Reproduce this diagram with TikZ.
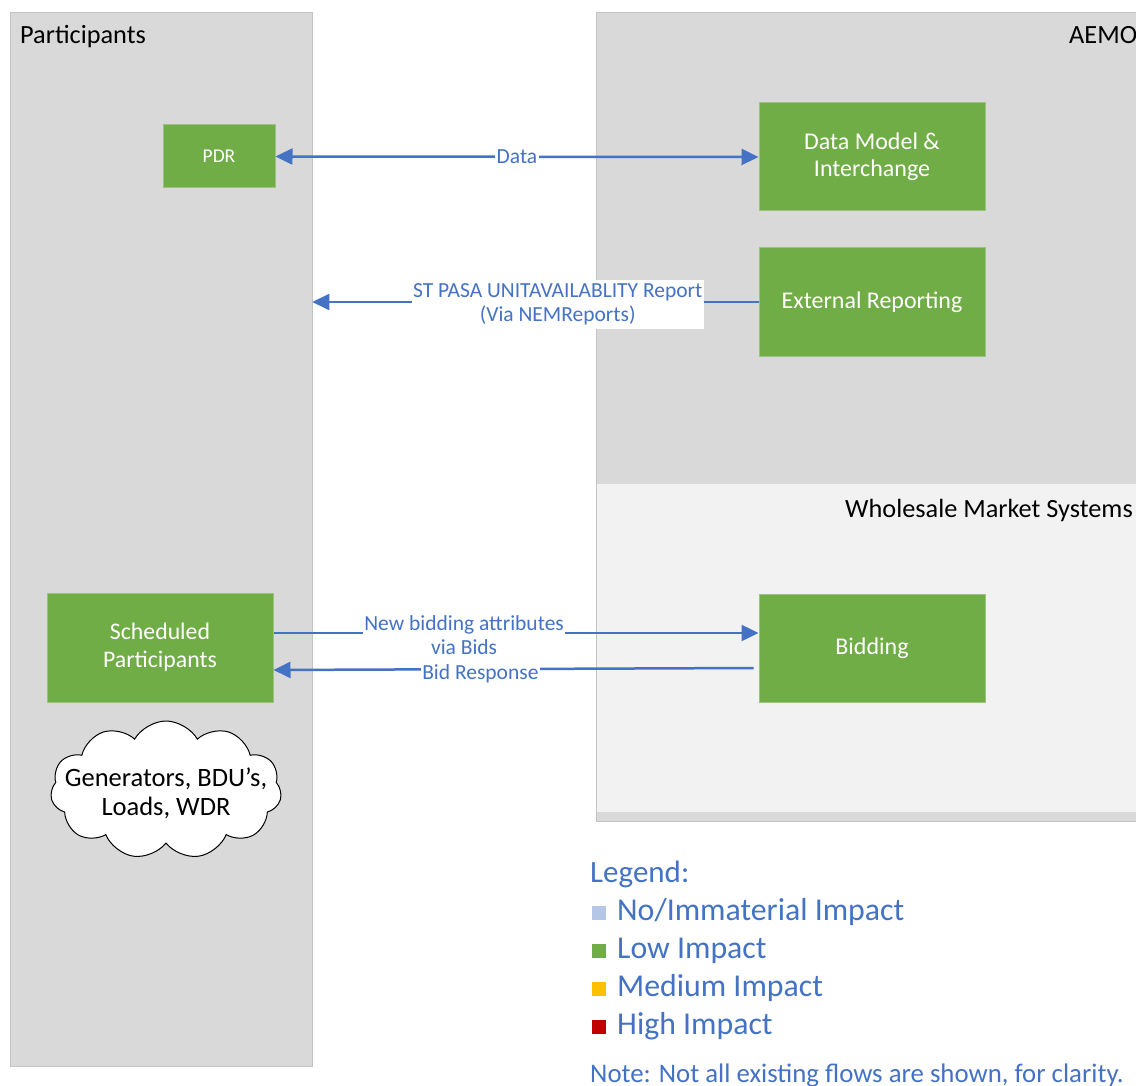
\documentclass[tikz,border=0pt]{standalone}
\usepackage{fontspec}
\setmainfont{Carlito}
\usetikzlibrary{arrows.meta,shapes.symbols,calc}
\definecolor{panelgray}{HTML}{D9D9D9}
\definecolor{wmsgray}{HTML}{F2F2F2}
\definecolor{lowgreen}{HTML}{70AD47}
\definecolor{flowblue}{HTML}{4472C4}
\definecolor{noimp}{HTML}{B4C7E7}
\definecolor{medimp}{HTML}{FFC000}
\definecolor{highimp}{HTML}{C00000}
\definecolor{panelline}{HTML}{C4C4C4}
\definecolor{boxline}{HTML}{9CC283}
\newcommand\fsz[2]{\fontsize{#1}{#2}\selectfont}
\begin{document}
\begin{tikzpicture}[x=1pt,y=-1pt,
  >={Triangle[length=17pt,width=16pt]},
  panel/.style={draw=panelline, line width=0.8pt, fill=panelgray, inner sep=0pt, anchor=north west},
  sysbox/.style={draw=boxline, line width=1pt, fill=lowgreen, text=white, align=center, inner sep=0pt},
  flow/.style={draw=flowblue, line width=2.5pt},
  lbl/.style={fill=white, text=flowblue, font=\fsz{21.5}{24}, inner xsep=1.5pt, inner ysep=1pt, align=center},
  title/.style={anchor=base west, inner sep=0pt, font=\fsz{26.3}{30}, text=black},
  legtext/.style={anchor=base west, inner sep=0pt, text=flowblue, font=\fsz{31.8}{36}},
  legsq/.style={minimum size=14pt, inner sep=0pt, anchor=south west}
]
\useasboundingbox (0,0) rectangle (1136,1086);
\clip (0,0) rectangle (1136,1086);
\fill[white] (0,0) rectangle (1136,1086);

% panels
\node[panel, minimum width=302pt, minimum height=1054pt] (part) at (9.5,12) {};
\node[panel, minimum width=560pt, minimum height=809pt] (aemo) at (596,12) {};
\node[fill=wmsgray, inner sep=0pt, anchor=north west, minimum width=545pt, minimum height=328pt] (wms) at (597,484) {};

% titles
\node[title] (ptitle) at (20,44) {Participants};
\node[title] (atitle) at (1069,44) {AEMO};
\node[title] (wtitle) at (845,517) {Wholesale Market Systems};

% system boxes
\node[sysbox, minimum width=112pt, minimum height=63pt, font=\fsz{19.5}{23}] (pdr) at (219,156.5) {PDR};
\node[sysbox, minimum width=226pt, minimum height=108pt, font=\fsz{24}{27}] (dm) at (872,157) {Data Model \&\\Interchange};
\node[sysbox, minimum width=226pt, minimum height=108pt, font=\fsz{24}{27}] (ext) at (872,302) {External Reporting};
\node[sysbox, minimum width=226pt, minimum height=108pt, font=\fsz{24}{27}] (bid) at (872,648) {Bidding};
\node[sysbox, minimum width=226pt, minimum height=109pt, font=\fsz{23.8}{28}] (sp) at (160,647.5) {Scheduled\\Participants};

% cloud
\node[cloud, draw=black, fill=white, line width=1pt, cloud puffs=11, cloud puff arc=120, aspect=1.67, minimum width=231pt, minimum height=138pt, inner sep=0pt] (cloud) at (166,790) {};
\node[font=\fsz{26.5}{29}, align=center, inner sep=0pt, text=black] (cloudtxt) at (166,793) {Generators, BDU’s,\\Loads, WDR};

% flows
\draw[flow,<->] (pdr.east) -- node[lbl, pos=0.5] (datalbl) {Data} (dm.west);
\draw[flow,->] (ext.west) -- node[lbl, pos=0.45, inner ysep=4pt, yshift=-2.5pt] (stlbl) {ST PASA UNITAVAILABLITY Report\\(Via NEMReports)} (ext.west -| part.east);
\draw[flow,->] ([yshift=14.5pt]sp.east) -- node[lbl, pos=0.393, yshift=-2pt] (newlbl) {New bidding attributes\\via Bids} ([yshift=15pt]bid.west);
\draw[flow,->] ([xshift=-5pt,yshift=-20pt]bid.west) -- node[lbl, pos=0.569, yshift=-5pt] (resplbl) {Bid Response} ([yshift=-22.5pt]sp.east);

% legend
\node[anchor=base west, inner sep=0pt, text=flowblue, font=\fsz{31}{36}] (legtitle) at (590,882) {Legend:};
\node[legsq, fill=noimp] (sq1) at (592,920) {};
\node[legtext] (leg1) at (617,920) {No/Immaterial Impact};
\node[legsq, fill=lowgreen] (sq2) at (592,958) {};
\node[legtext] (leg2) at (617,958) {Low Impact};
\node[legsq, fill=medimp] (sq3) at (592,996) {};
\node[legtext] (leg3) at (617,996) {Medium Impact};
\node[legsq, fill=highimp] (sq4) at (592,1034) {};
\node[legtext] (leg4) at (617,1034) {High Impact};
\node[anchor=base west, inner sep=0pt, text=flowblue, font=\fsz{26.8}{30}] (note) at (590,1082) {Note: Not all existing flows are shown, for clarity.};
\end{tikzpicture}
\end{document}
